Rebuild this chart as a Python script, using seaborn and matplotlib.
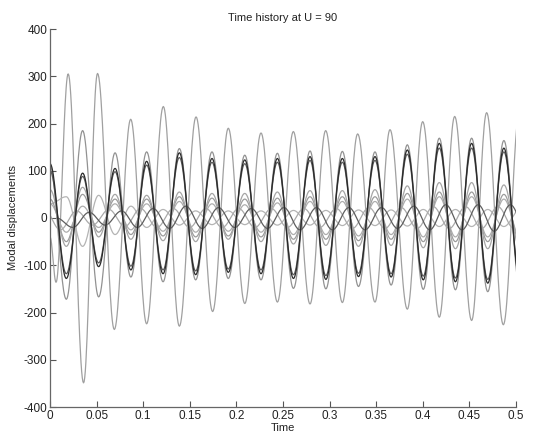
import numpy as np
import pandas as pd
import matplotlib
matplotlib.use("Agg")
import matplotlib.pyplot as plt
import seaborn as sns

# ---------------- data ----------------
TITLE = "Time history at U = 90"
X_LABEL = "Time"
Y_LABEL = "Modal displacements"
X_TICKS = [0, 0.05, 0.1, 0.15, 0.2, 0.25, 0.3, 0.35, 0.4, 0.45, 0.5]
X_TICK_LABELS = ["0", "0.05", "0.1", "0.15", "0.2", "0.25", "0.3", "0.35", "0.4", "0.45", "0.5"]
Y_TICKS = [-400, -300, -200, -100, 0, 100, 200, 300, 400]
Y_TICK_LABELS = ["-400", "-300", "-200", "-100", "0", "100", "200", "300", "400"]

# times of successive extrema (peaks / troughs) of the in-phase bundle
T_EXT = [0.0000, 0.0175, 0.0350, 0.0522, 0.0698, 0.0868, 0.1037, 0.1213, 0.1388, 0.1563,
         0.1738, 0.1913, 0.2090, 0.2264, 0.2440, 0.2612, 0.2790, 0.2960, 0.3137, 0.3310,
         0.3487, 0.3660, 0.3834, 0.4005, 0.4177, 0.4350, 0.4524, 0.4697, 0.4870, 0.5044]

# largest mode (anti-phase) has its own extremum times early on
MODE_A_T = [0.0, 0.0065, 0.0195, 0.0360, 0.0510, 0.0690, 0.0866, 0.1037, 0.1216, 0.1388,
            0.1567, 0.1745, 0.1913, 0.2090, 0.2264, 0.2440, 0.2611, 0.2790, 0.2958, 0.3137,
            0.3301, 0.3487, 0.3648, 0.3834, 0.3999, 0.4177, 0.4342, 0.4524, 0.4685, 0.4864, 0.5040]
MODE_A = [-40, -136, 305, -349, 306, -236, 209, -224, 236, -229,
          214, -198, 190, -181, 180, -178, 183, -182, 185, -179,
          178, -178, 187, -193, 204, -210, 215, -217, 223, -226, 230]

MODE_B = [110, -172, 185, -167, 138, -125, 140, -135, 147, -131,
          140, -128, 133, -131, 137, -149, 142, -150, 141, -145,
          140, -142, 155, -151, 169, -152, 169, -156, 164, -150]
MODE_C = [115, -128, 95, -103, 105, -110, 120, -118, 138, -120,
          126, -115, 123, -118, 126, -128, 130, -130, 126, -124,
          130, -125, 144, -131, 158, -135, 158, -138, 148, -135]
MODE_D = [100, -118, 88, -95, 98, -102, 112, -110, 128, -112,
          118, -108, 115, -110, 118, -120, 122, -122, 118, -117,
          122, -118, 135, -123, 148, -127, 148, -130, 140, -128]
MODE_E = [60, -60, 65, -40, 50, -45, 48, -48, 55, -50,
          52, -45, 52, -50, 55, -55, 58, -58, 58, -60,
          60, -58, 68, -63, 75, -65, 75, -65, 70, -65]
MODE_F = [40, -50, 50, -30, 40, -35, 40, -38, 45, -40,
          42, -38, 40, -40, 42, -45, 45, -45, 45, -48,
          45, -45, 52, -50, 55, -50, 55, -50, 50, -50]
MODE_G = [30, -30, 25, -20, 30, -25, 30, -28, 35, -30,
          30, -28, 28, -30, 32, -35, 35, -35, 35, -38,
          35, -35, 40, -40, 45, -40, 45, -40, 40, -40]
MODE_H = [0, -20, 12, -15, 15, -20, 20, -22, 25, -22,
          22, -20, 20, -22, 22, -25, 22, -25, 22, -25,
          22, -22, 25, -25, 28, -25, 28, -28, 28, -28]
MODE_I = [30, 45, -60, 48, -35, 25, -20, 18, -15, 15,
          -14, 15, -14, 15, -15, 16, -15, 16, -16, 17,
          -16, 17, -17, 18, -18, 18, -18, 18, -18, 18]
MODE_J = [20, -25, 15, -15, 18, -18, 20, -20, 20, -20,
          20, -20, 20, -20, 20, -20, 20, -20, 20, -22,
          22, -22, 22, -22, 24, -22, 24, -22, 24, -22]
# time lag of the phase-shifted small modes relative to the bundle
LAG_H = 0.0070
LAG_J = -0.0065


def smooth_path(times, values, n=24):
    """Join successive extrema with half-cosine arcs."""
    xs, ys = [], []
    for i in range(len(times) - 1):
        s = np.linspace(0, 1, n, endpoint=False)
        w = (1 - np.cos(np.pi * s)) / 2
        xs.append(times[i] + (times[i + 1] - times[i]) * s)
        ys.append(values[i] + (values[i + 1] - values[i]) * w)
    xs.append([times[-1]])
    ys.append([values[-1]])
    return np.concatenate(xs), np.concatenate(ys)


t_ext = np.array(T_EXT)
series = [
    ("A", np.array(MODE_A_T), MODE_A, "#a0a0a0", 0.9),
    ("I", t_ext, MODE_I, "#b4b4b4", 0.9),
    ("J", t_ext + LAG_J, MODE_J, "#aaaaaa", 0.9),
    ("G", t_ext, MODE_G, "#adadad", 0.9),
    ("F", t_ext, MODE_F, "#9c9c9c", 0.9),
    ("E", t_ext, MODE_E, "#a6a6a6", 0.9),
    ("H", t_ext + LAG_H, MODE_H, "#5e5e5e", 0.9),
    ("B", t_ext, MODE_B, "#929292", 0.9),
    ("D", t_ext, MODE_D, "#5a5a5a", 0.9),
    ("C", t_ext, MODE_C, "#2a2a2a", 0.9),
]

sns.set_style("ticks")
plt.rcParams["font.family"] = ["Liberation Sans", "DejaVu Sans"]
plt.rcParams["axes.unicode_minus"] = False

fig = plt.figure(figsize=(5.38, 4.32), dpi=100)
ax = fig.add_axes([50 / 538, 1 - 407 / 432, 466 / 538, 378 / 432])

for name, tt, vv, color, lw in series:
    x, y = smooth_path(tt, vv)
    df = pd.DataFrame({"Time": x, "Displacement": y})
    sns.lineplot(data=df, x="Time", y="Displacement", ax=ax, color=color,
                 linewidth=lw, estimator=None, sort=False)

ax.set_xlim(0, 0.5)
ax.set_ylim(-400, 400)
ax.set_xticks(X_TICKS)
ax.set_xticklabels(X_TICK_LABELS)
ax.set_yticks(Y_TICKS)
ax.set_yticklabels(Y_TICK_LABELS)
ax.tick_params(direction="in", length=4, width=0.8, labelsize=8.5,
               colors="#555555", labelcolor="#222222", pad=2)
for side in ["top", "right"]:
    ax.spines[side].set_visible(False)
for side in ["left", "bottom"]:
    ax.spines[side].set_color("#666666")
    ax.spines[side].set_linewidth(0.9)

ax.set_title(TITLE, fontsize=8, color="#222222", pad=6)
ax.set_xlabel(X_LABEL, fontsize=8, color="#222222", labelpad=1)
ax.set_ylabel(Y_LABEL, fontsize=8, color="#222222", labelpad=4)

fig.savefig("out.png", dpi=100)
